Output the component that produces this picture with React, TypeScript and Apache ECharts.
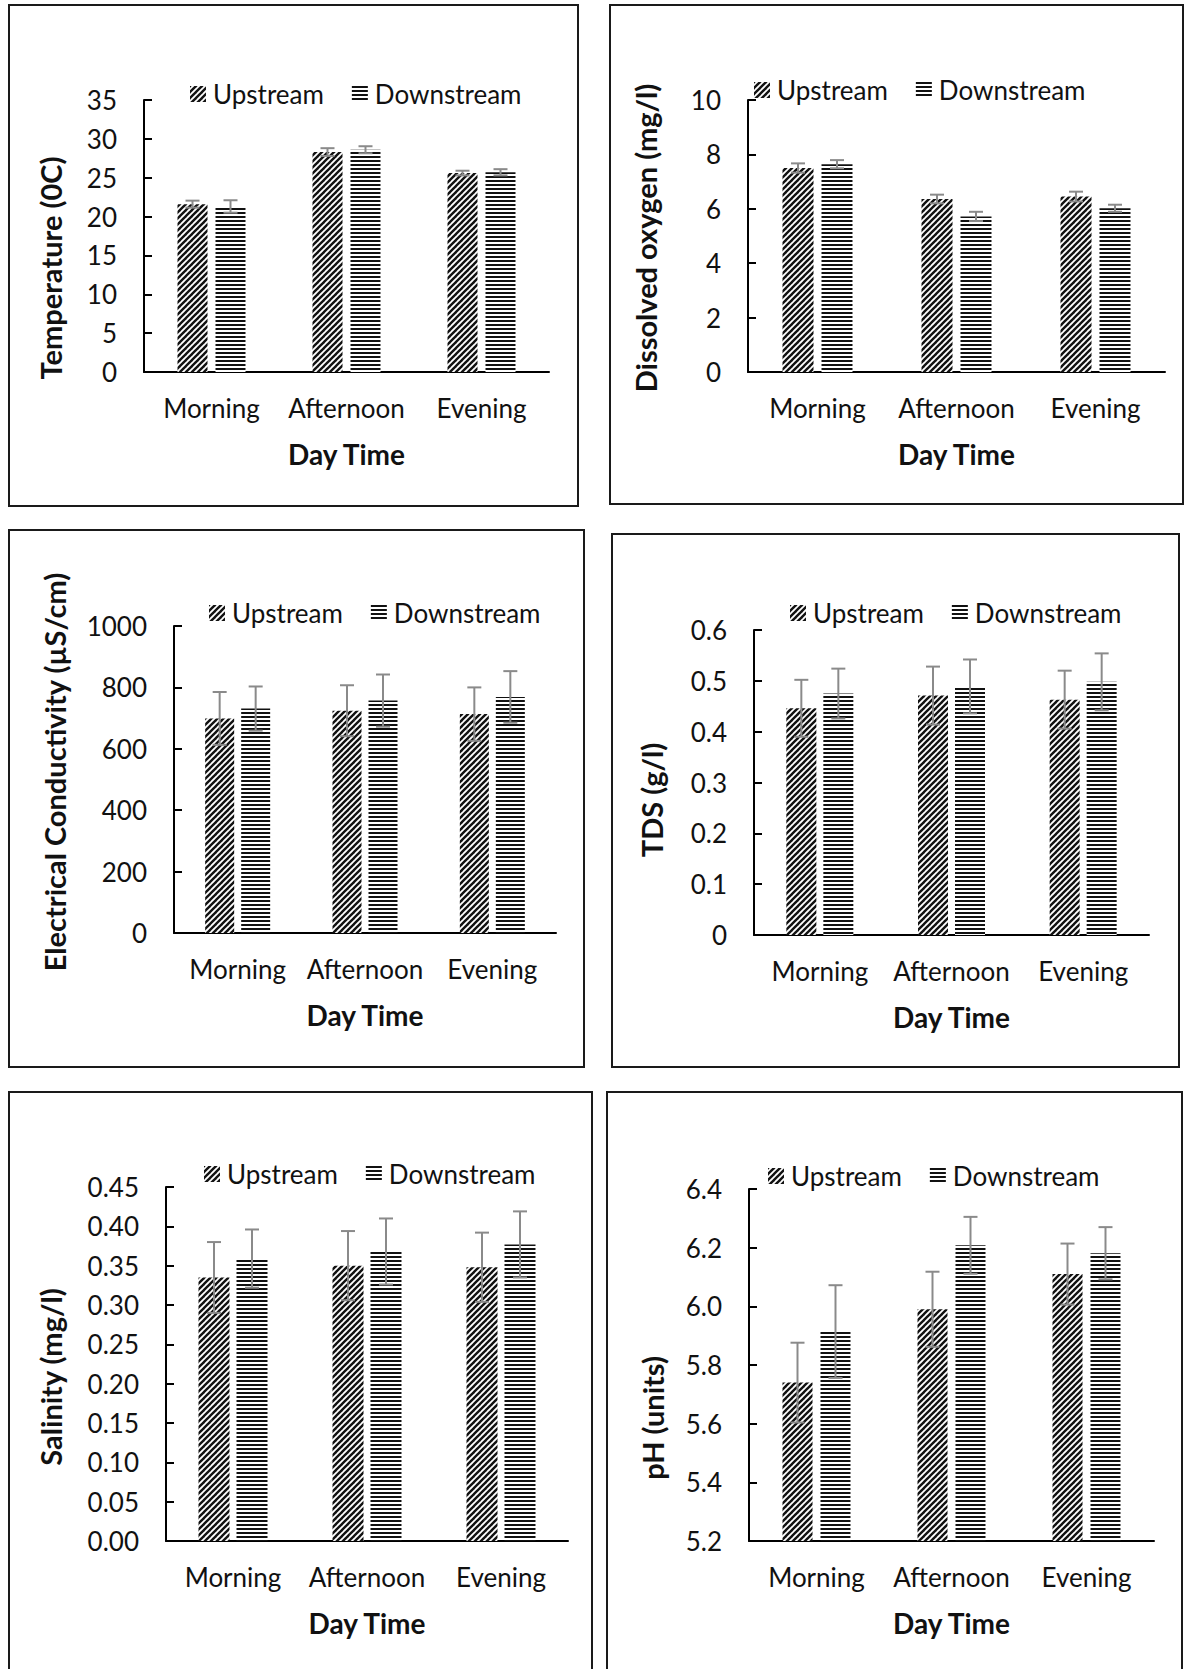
import React, { useEffect, useRef } from 'react';
import * as echarts from 'echarts';

// ---------- data ----------
const categories = ['Morning', 'Afternoon', 'Evening'];
const seriesNames = ['Upstream', 'Downstream'];
const xTitle = 'Day Time';

// axis ranges: [min, max, step]
const tempAxis = [0, 35, 5];
const doAxis = [0, 10, 2];
const ecAxis = [0, 1000, 200];
const tdsAxis = [0, 0.6, 0.1];
const salAxis = [0, 0.45, 0.05];
const phAxis = [5.2, 6.4, 0.2];

const tempUp = [21.6, 28.3, 25.6];
const tempUpErr = [0.45, 0.5, 0.3];
const tempDown = [21.3, 28.6, 25.7];
const tempDownErr = [0.8, 0.45, 0.4];

const doUp = [7.5, 6.36, 6.45];
const doUpErr = [0.17, 0.16, 0.18];
const doDown = [7.64, 5.72, 6.02];
const doDownErr = [0.15, 0.17, 0.13];

const ecUp = [699, 724, 713];
const ecUpErr = [86, 83, 87];
const ecDown = [731, 757, 769];
const ecDownErr = [72, 85, 84];

const tdsUp = [0.446, 0.471, 0.463];
const tdsUpErr = [0.056, 0.057, 0.057];
const tdsDown = [0.475, 0.489, 0.498];
const tdsDownErr = [0.049, 0.053, 0.056];

const salUp = [0.335, 0.35, 0.348];
const salUpErr = [0.045, 0.044, 0.044];
const salDown = [0.359, 0.368, 0.377];
const salDownErr = [0.037, 0.042, 0.042];

const phUp = [5.74, 5.99, 6.11];
const phUpErr = [0.136, 0.128, 0.104];
const phDown = [5.914, 6.208, 6.181];
const phDownErr = [0.158, 0.097, 0.089];

// ---------- layout ----------
const FONT = 'Lato';
const TEXT = '#111';

type Panel = {
  yName: string;
  axis: number[];
  up: number[]; upErr: number[]; down: number[]; downErr: number[];
  fmt: (v: number) => string;
  box: number[]; grid: number[]; legend: number[]; title: number[];
  bw: number; gap: number;
};

const plain = (v: number) => String(Math.round(v * 1000) / 1000);

const panels: Panel[] = [
  { yName: 'Temperature (0C)', axis: tempAxis, up: tempUp, upErr: tempUpErr, down: tempDown, downErr: tempDownErr, fmt: plain,
    box: [9, 5, 569, 501], grid: [144, 100, 405, 272], legend: [190, 95], title: [50, 268], bw: 30, gap: 8 },
  { yName: 'Dissolved oxygen (mg/l)', axis: doAxis, up: doUp, upErr: doUpErr, down: doDown, downErr: doDownErr, fmt: plain,
    box: [610, 5, 573, 499], grid: [748, 100, 417, 272], legend: [754, 91], title: [645, 238], bw: 31, gap: 8 },
  { yName: 'Electrical Conductivity (µS/cm)', axis: ecAxis, up: ecUp, upErr: ecUpErr, down: ecDown, downErr: ecDownErr, fmt: plain,
    box: [9, 530, 575, 537], grid: [174, 626, 382, 307], legend: [209, 614], title: [54, 772], bw: 29, gap: 7 },
  { yName: 'TDS (g/l)', axis: tdsAxis, up: tdsUp, upErr: tdsUpErr, down: tdsDown, downErr: tdsDownErr, fmt: plain,
    box: [612, 534, 567, 533], grid: [754, 630, 395, 305], legend: [790, 614], title: [651, 800], bw: 30, gap: 7 },
  { yName: 'Salinity (mg/l)', axis: salAxis, up: salUp, upErr: salUpErr, down: salDown, downErr: salDownErr, fmt: (v) => v.toFixed(2),
    box: [9, 1092, 583, 620], grid: [166, 1187, 402, 354], legend: [204, 1175], title: [50, 1377], bw: 31, gap: 7 },
  { yName: 'pH (units)', axis: phAxis, up: phUp, upErr: phUpErr, down: phDown, downErr: phDownErr, fmt: (v) => v.toFixed(1),
    box: [607, 1092, 575, 620], grid: [749, 1189, 405, 352], legend: [768, 1177], title: [652, 1418], bw: 30, gap: 8 },
];

function makeDiag(): HTMLCanvasElement {
  const w = 6, h = 6;
  const c = document.createElement('canvas');
  c.width = w; c.height = h;
  const ctx = c.getContext('2d')!;
  ctx.fillStyle = '#fff';
  ctx.fillRect(0, 0, w, h);
  ctx.strokeStyle = '#111';
  ctx.lineWidth = 2.4;
  for (const k of [-1, 0, 1]) {
    ctx.beginPath();
    ctx.moveTo(k * w - 1, h + 1);
    ctx.lineTo(k * w + w + 1, -1);
    ctx.stroke();
  }
  return c;
}

function makeHoriz(): HTMLCanvasElement {
  const c = document.createElement('canvas');
  c.width = 4; c.height = 4;
  const ctx = c.getContext('2d')!;
  ctx.fillStyle = '#fff';
  ctx.fillRect(0, 0, 4, 4);
  ctx.fillStyle = '#111';
  ctx.fillRect(0, 0, 4, 2);
  return c;
}

export default function App() {
  const ref = useRef<HTMLDivElement>(null);
  useEffect(() => {
    if (!ref.current) return;
    const chart = echarts.init(ref.current, undefined, { renderer: 'svg' });
    const diag = { image: makeDiag(), repeat: 'repeat', imageWidth: 6, imageHeight: 6 };
    const horiz = { image: makeHoriz(), repeat: 'repeat', imageWidth: 4, imageHeight: 4 };

    const series: any[] = [];
    panels.forEach((p, i) => {
      series.push({
        type: 'bar', name: seriesNames[0], xAxisIndex: i, yAxisIndex: i, data: p.up,
        barWidth: p.bw, barGap: `${(p.gap / p.bw) * 100}%`, silent: true,
        itemStyle: { color: diag as any },
      });
      series.push({
        type: 'bar', name: seriesNames[1], xAxisIndex: i, yAxisIndex: i, data: p.down,
        barWidth: p.bw, barGap: `${(p.gap / p.bw) * 100}%`, silent: true,
        itemStyle: { color: horiz as any },
      });
      const off = (p.bw + p.gap) / 2;
      const errData: number[][] = [];
      categories.forEach((_, c) => {
        errData.push([c, p.up[c], p.upErr[c], -1]);
        errData.push([c, p.down[c], p.downErr[c], 1]);
      });
      series.push({
        type: 'custom', name: 'err' + i, xAxisIndex: i, yAxisIndex: i, silent: true, z: 5,
        encode: { x: 0, y: 1 },
        data: errData,
        renderItem: (params: any, api: any) => {
          const ci = api.value(0), v = api.value(1), e = api.value(2), s = api.value(3);
          const base = api.coord([ci, v]);
          const hi = api.coord([ci, v + e]);
          const lo = api.coord([ci, v - e]);
          const x = base[0] + s * off;
          const cap = 7;
          const style = { stroke: '#8a8a8a', lineWidth: 2 };
          return {
            type: 'group',
            children: [
              { type: 'line', shape: { x1: x, y1: hi[1], x2: x, y2: lo[1] }, style },
              { type: 'line', shape: { x1: x - cap, y1: hi[1], x2: x + cap, y2: hi[1] }, style },
              { type: 'line', shape: { x1: x - cap, y1: lo[1], x2: x + cap, y2: lo[1] }, style },
            ],
          };
        },
      });
    });

    const graphic: any[] = [];
    panels.forEach((p) => {
      graphic.push({
        type: 'rect', silent: true,
        shape: { x: p.box[0], y: p.box[1], width: p.box[2], height: p.box[3] },
        style: { fill: 'none', stroke: '#1a1a1a', lineWidth: 2 },
      });
      graphic.push({
        type: 'text', silent: true, x: p.title[0], y: p.title[1], rotation: Math.PI / 2,
        style: {
          text: p.yName, fill: TEXT, font: `bold 29px ${FONT}`,
          textAlign: 'center', textVerticalAlign: 'middle', align: 'center', verticalAlign: 'middle',
        },
      });
    });

    const option: any = {
      animation: false,
      backgroundColor: '#fff',
      textStyle: { fontFamily: FONT },
      grid: panels.map((p) => ({ left: p.grid[0], top: p.grid[1], width: p.grid[2], height: p.grid[3] })),
      xAxis: panels.map((p, i) => ({
        type: 'category', gridIndex: i, data: categories,
        axisLine: { show: true, lineStyle: { color: '#000', width: 2 } },
        axisTick: { show: false },
        axisLabel: { fontSize: 26, color: TEXT, fontFamily: FONT, margin: 23, interval: 0, hideOverlap: false },
        name: xTitle, nameLocation: 'middle', nameGap: 68,
        nameTextStyle: { fontSize: 28, fontWeight: 'bold', color: TEXT, fontFamily: FONT },
      })),
      yAxis: panels.map((p, i) => ({
        type: 'value', gridIndex: i, min: p.axis[0], max: p.axis[1], interval: p.axis[2],
        axisLine: { show: true, lineStyle: { color: '#000', width: 2 } },
        axisTick: { show: true, inside: true, length: 8, lineStyle: { color: '#000', width: 2 } },
        splitLine: { show: false },
        axisLabel: { fontSize: 26, color: TEXT, fontFamily: FONT, margin: 27, formatter: (v: number) => p.fmt(v) },
      })),
      legend: panels.map((p) => ({
        data: seriesNames, left: p.legend[0], top: p.legend[1] - 14, orient: 'horizontal',
        itemWidth: 16, itemHeight: 16, itemGap: 28, padding: 0, selectedMode: false, icon: 'rect',
        textStyle: { fontSize: 26, color: TEXT, fontFamily: FONT, padding: [0, 0, 0, 2] },
      })),
      graphic,
      series,
    };
    chart.setOption(option);
    return () => chart.dispose();
  }, []);
  return (
    <div
      ref={ref}
      style={{ position: 'absolute', left: 0, top: 0, width: 1188, height: 1669, background: '#fff' }}
    />
  );
}
